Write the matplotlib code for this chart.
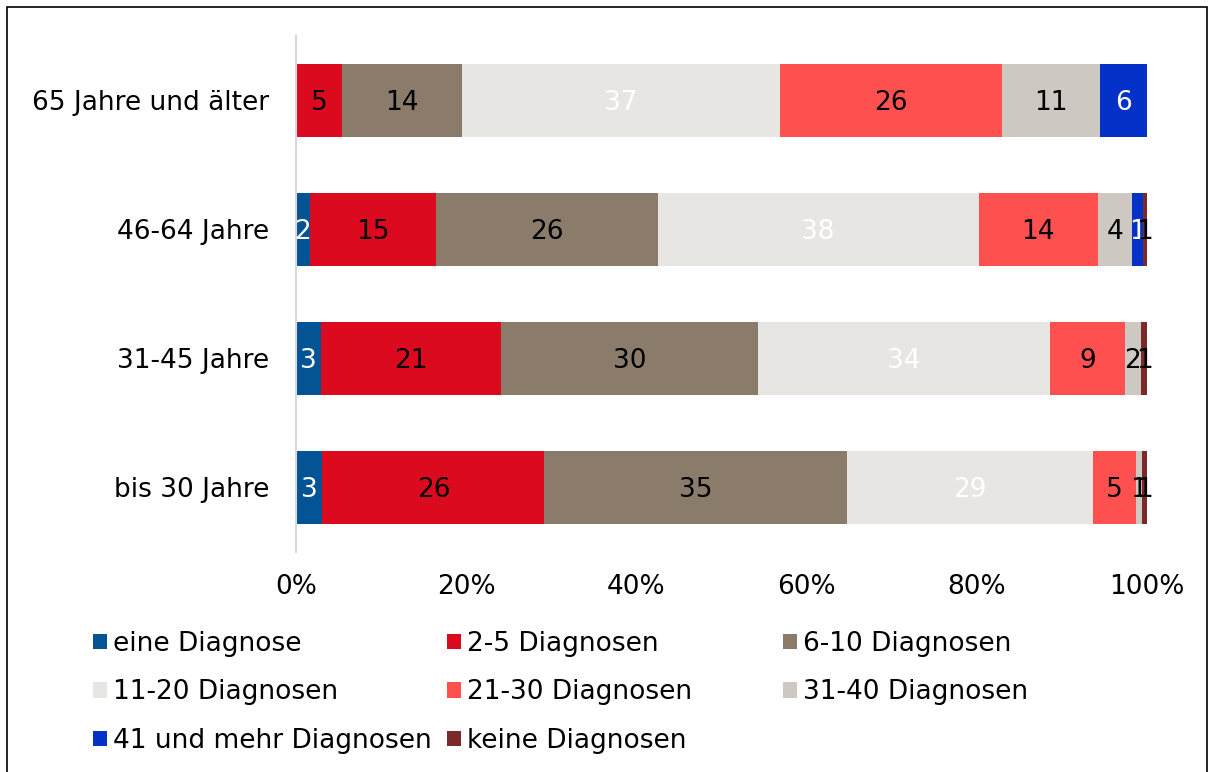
import matplotlib
matplotlib.use("Agg")
import matplotlib.pyplot as plt
from matplotlib.patches import Rectangle

# Data (shares in percent, bottom to top)
groups = ["bis 30 Jahre", "31-45 Jahre", "46-64 Jahre", "65 Jahre und älter"]
series = ["eine Diagnose", "2-5 Diagnosen", "6-10 Diagnosen", "11-20 Diagnosen",
          "21-30 Diagnosen", "31-40 Diagnosen", "41 und mehr Diagnosen", "keine Diagnosen"]

eine = [3.1, 2.9, 1.6, 0.0]
d2_5 = [26.1, 21.2, 14.8, 5.4]
d6_10 = [35.5, 30.2, 26.1, 14.1]
d11_20 = [28.9, 34.3, 37.7, 37.4]
d21_30 = [5.1, 8.8, 14.0, 26.1]
d31_40 = [0.7, 1.9, 4.0, 11.5]
d41_plus = [0.0, 0.0, 1.3, 5.5]
keine = [0.7, 0.7, 0.5, 0.0]

# printed labels (rounded values as shown)
lab_eine = [3, 3, 2, None]
lab_2_5 = [26, 21, 15, 5]
lab_6_10 = [35, 30, 26, 14]
lab_11_20 = [29, 34, 38, 37]
lab_21_30 = [5, 9, 14, 26]
lab_31_40 = [1, 2, 4, 11]
lab_41_plus = [None, None, 1, 6]
lab_keine = [1, 1, 1, None]

values = [eine, d2_5, d6_10, d11_20, d21_30, d31_40, d41_plus, keine]
labels = [lab_eine, lab_2_5, lab_6_10, lab_11_20, lab_21_30, lab_31_40, lab_41_plus, lab_keine]
colors = ["#045495", "#DC0A1E", "#8A7B6A", "#E8E6E2", "#FF5050", "#CDC9C2", "#0432C8", "#7A2A2A"]
text_colors = ["white", "black", "black", "white", "black", "black", "white", "black"]

plt.rcParams['font.family'] = ['DejaVu Sans']
fs = 19

fig = plt.figure(figsize=(12.12, 7.72), dpi=100)
ax = fig.add_axes([0.2442, 0.2856, 0.7022, 0.6684])

ypos = list(range(len(groups)))
left = [0.0] * len(groups)
bars = []
for vals, labs, col, tcol, name in zip(values, labels, colors, text_colors, series):
    b = ax.barh(ypos, vals, left=left, height=0.566, color=col, label=name)
    bars.append(b)
    for i, (v, l) in enumerate(zip(vals, labs)):
        if l is not None:
            ax.text(left[i] + v / 2, ypos[i] - 0.02, str(l), ha="center", va="center",
                    color=tcol, fontsize=fs)
    left = [a + v for a, v in zip(left, vals)]

ax.set_xlim(0, 100)
ax.set_ylim(-0.5, 3.5)
ax.set_yticks(ypos)
ax.set_yticklabels(groups, fontsize=fs)
ax.set_xticks([0, 20, 40, 60, 80, 100])
ax.set_xticklabels(["0%", "20%", "40%", "60%", "80%", "100%"], fontsize=fs)
ax.tick_params(length=0)
ax.tick_params(axis="x", pad=16)
ax.tick_params(axis="y", pad=19)
for s in ["top", "right", "bottom"]:
    ax.spines[s].set_visible(False)
ax.spines["left"].set_color("#D9D9D9")
ax.spines["left"].set_linewidth(1.5)

# legend, row-wise in three columns
cols = [[0, 3, 6], [1, 4, 7], [2, 5]]
xs = [0.0767, 0.3688, 0.646]
for c, x in zip(cols, xs):
    fig.legend([bars[i] for i in c], [series[i] for i in c], loc="upper left",
               bbox_to_anchor=(x, 0.1826), frameon=False, fontsize=fs,
               handlelength=0.53, handleheight=0.53, handletextpad=0.23,
               labelspacing=0.85, borderaxespad=0, borderpad=0)

# outer frame
fig.patches.append(Rectangle((7 / 1212, -0.05), 1200 / 1212, 1.05 - 7 / 772,
                             transform=fig.transFigure, fill=False,
                             edgecolor="black", linewidth=1.2))

fig.savefig("out.png", dpi=100)
